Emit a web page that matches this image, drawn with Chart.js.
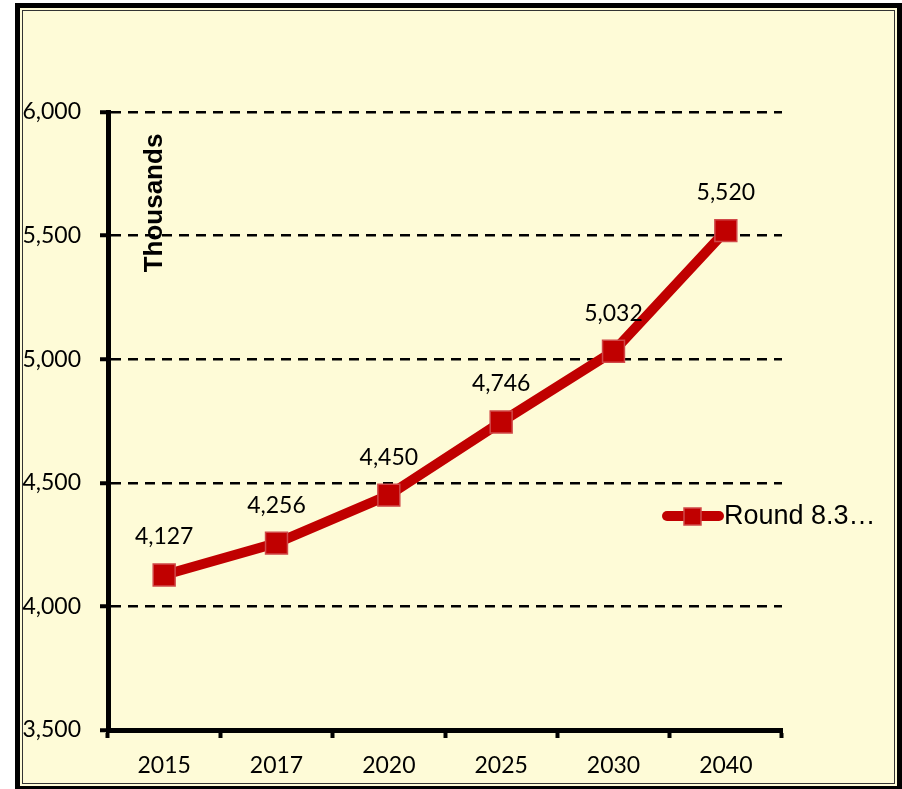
<!DOCTYPE html>
<html>
<head>
<meta charset="utf-8">
<script src="https://cdn.jsdelivr.net/npm/chart.js@4.4.1/dist/chart.umd.min.js"></script>
<style>
  body { margin: 0; background: #fff; }
  #frame {
    position: absolute; left: 15px; top: 3px; width: 887px; height: 788px;
    box-sizing: border-box; background: #FEFBD7;
    border: 5px solid #000;
    box-shadow: inset 0 0 0 2px #FEFBD7, inset 0 0 0 3px #333;
  }
  #chartCanvas { position: absolute; left: 0; top: 0; }
</style>
</head>
<body>
<div id="frame"></div>
<canvas id="chartCanvas" width="902" height="789"></canvas>
<script>
var years = ['2015', '2017', '2020', '2025', '2030', '2040'];
var population = [4127, 4256, 4450, 4746, 5032, 5520];
var seriesName = 'Round 8.3\u2026';
var axisTitle = 'Thousands';
var yMin = 3500;
var yMax = 6000;
var yStep = 500;

var red = '#C00000';
var labelFont = '23px Lato';

function fmt(v) {
  return v.toLocaleString('en-US');
}

// values above each point
var pointLabels = {
  id: 'pointLabels',
  afterDatasetsDraw: function(chart) {
    var ctx = chart.ctx;
    var meta = chart.getDatasetMeta(0);
    ctx.save();
    ctx.font = labelFont;
    ctx.fillStyle = '#000';
    ctx.textAlign = 'center';
    ctx.textBaseline = 'middle';
    meta.data.forEach(function(pt, i) {
      ctx.fillText(fmt(population[i]), pt.x, pt.y - 38);
    });
    ctx.restore();
  }
};

// "Thousands" inside plot + legend on the right
var extras = {
  id: 'extras',
  afterDraw: function(chart) {
    var ctx = chart.ctx;
    var area = chart.chartArea;
    ctx.save();
    ctx.translate(area.left + 47, area.top + 91);
    ctx.rotate(-Math.PI / 2);
    ctx.font = 'bold 26px "Liberation Sans"';
    ctx.fillStyle = '#000';
    ctx.textAlign = 'center';
    ctx.textBaseline = 'middle';
    ctx.fillText(axisTitle, 0, 0);
    ctx.restore();

    var ds = chart.data.datasets[0];
    var lx = 667, ly = 516;
    ctx.save();
    ctx.strokeStyle = ds.borderColor;
    ctx.lineWidth = 10;
    ctx.lineCap = 'round';
    ctx.beginPath();
    ctx.moveTo(lx, ly);
    ctx.lineTo(lx + 52, ly);
    ctx.stroke();
    ctx.fillStyle = ds.pointBackgroundColor;
    ctx.strokeStyle = ds.pointBorderColor;
    ctx.lineWidth = 1.5;
    ctx.fillRect(lx + 17, ly - 8, 17, 17);
    ctx.strokeRect(lx + 17, ly - 8, 17, 17);
    ctx.font = '27px "Liberation Sans"';
    ctx.fillStyle = '#000';
    ctx.textAlign = 'left';
    ctx.textBaseline = 'middle';
    ctx.fillText(ds.label, 724, ly + 1);
    ctx.restore();
  }
};

var ctx = document.getElementById('chartCanvas').getContext('2d');
var chart = new Chart(ctx, {
  type: 'line',
  data: {
    labels: years,
    datasets: [
      {
        label: seriesName,
        data: population,
        borderColor: red,
        borderWidth: 10,
        tension: 0,
        pointStyle: 'rect',
        pointRadius: 15.5,
        pointBackgroundColor: red,
        pointBorderColor: '#D04848',
        pointBorderWidth: 1.5
      }
    ]
  },
  options: {
    responsive: false,
    animation: false,
    events: [],
    layout: { padding: { left: 0, right: 120, top: 112, bottom: 0 } },
    plugins: {
      legend: { display: false },
      tooltip: { enabled: false }
    },
    scales: {
      x: {
        offset: true,
        afterFit: function(scale) { scale.height = 59; },
        grid: {
          offset: true,
          drawOnChartArea: false,
          drawTicks: true,
          tickLength: 8,
          tickWidth: 4,
          tickColor: '#000'
        },
        border: { display: true, color: '#000', width: 5 },
        ticks: { font: { family: 'Lato', size: 23 }, color: '#000', padding: 14, maxRotation: 0 }
      },
      y: {
        min: yMin,
        max: yMax,
        afterFit: function(scale) { scale.width = 108; },
        grid: {
          color: '#000',
          lineWidth: 2.5,
          drawTicks: true,
          tickLength: 8,
          tickWidth: 4,
          tickColor: '#000'
        },
        border: { display: true, color: '#000', width: 5, dash: [10, 7] },
        ticks: {
          stepSize: yStep,
          font: { family: 'Lato', size: 23 },
          color: '#000',
          padding: 19,
          callback: function(v) { return fmt(v); }
        }
      }
    }
  },
  plugins: [pointLabels, extras]
});
</script>
</body>
</html>
